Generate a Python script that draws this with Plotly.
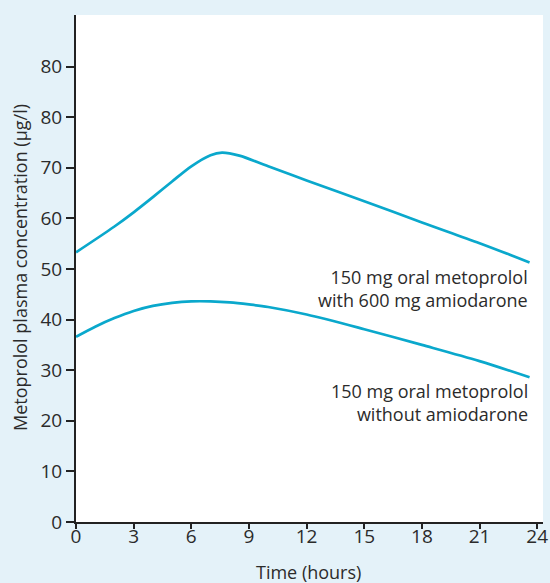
import plotly.graph_objects as go

# Data
time_with = [0, 2, 3, 4, 5, 6, 7, 7.6, 8.5, 10, 12, 15, 18, 21, 23.6]
conc_with = [53.3, 58.4, 61.2, 64.2, 67.3, 70.3, 72.5, 73.0, 72.4, 70.3, 67.5, 63.4, 59.2, 55.1, 51.3]

time_without = [0, 1, 2, 3, 4, 5, 6, 7, 8, 9, 10, 12, 15, 18, 21, 23.6]
conc_without = [36.6, 38.6, 40.3, 41.7, 42.7, 43.3, 43.6, 43.6, 43.4, 43.0, 42.5, 41.0, 38.1, 35.0, 31.8, 28.6]

x_ticks = [0, 3, 6, 9, 12, 15, 18, 21, 24]
y_tickvals = [0, 10, 20, 30, 40, 50, 60, 70, 80, 90]
y_ticktext = ["0", "10", "20", "30", "40", "50", "60", "70", "80", "80"]

label_with = "150 mg oral metoprolol<br>with 600 mg amiodarone"
label_without = "150 mg oral metoprolol<br>without amiodarone"
x_title = "Time (hours)"
y_title = "Metoprolol plasma concentration (µg/l)"

line_color = "#0aa8cc"
font_family = "Open Sans, Noto Sans, sans-serif"
text_color = "#2b2b2b"

fig = go.Figure()
for t, c in ((time_with, conc_with), (time_without, conc_without)):
    fig.add_trace(go.Scatter(x=t, y=c, mode="lines",
                             line=dict(color=line_color, width=2.7, shape="spline", smoothing=0.9),
                             hoverinfo="skip", showlegend=False))

fig.add_annotation(x=time_with[-1], y=51.2, xref="x", yref="y", text=label_with,
                   showarrow=False, xanchor="right", yanchor="top", align="right",
                   font=dict(size=18, color=text_color, family=font_family))
fig.add_annotation(x=time_without[-1], y=28.6, xref="x", yref="y", text=label_without,
                   showarrow=False, xanchor="right", yanchor="top", align="right",
                   font=dict(size=18, color=text_color, family=font_family))

# axis titles
fig.add_annotation(x=308, y=572, xref="paper", yref="paper", text=x_title, showarrow=False,
                   font=dict(size=18, color=text_color, family=font_family))
fig.add_annotation(x=20, y=268, xref="paper", yref="paper", text=y_title, showarrow=False,
                   textangle=-90,
                   font=dict(size=18, color=text_color, family=font_family))

L, R, T, B = 76, 7, 15, 61
W, H = 550, 583
pw, ph = W - L - R, H - T - B
# convert pixel positions of title annotations to paper coords
for ann in fig.layout.annotations[2:]:
    ann.x = (ann.x - L) / pw
    ann.y = 1 - (ann.y - T) / ph
    ann.xanchor = "center"
    ann.yanchor = "middle"

fig.update_layout(
    width=W, height=H,
    margin=dict(l=L, r=R, t=T, b=B),
    paper_bgcolor="#e4f2f9",
    plot_bgcolor="#ffffff",
    font=dict(family=font_family, color=text_color, size=19),
)
fig.update_xaxes(
    range=[0, 24.3], tickvals=x_ticks, ticks="outside", ticklen=5, tickwidth=2,
    tickcolor="#222222", showline=True, linecolor="#222222", linewidth=2,
    showgrid=False, zeroline=False, tickfont=dict(size=19), automargin=False,
    ticklabelstandoff=-9,
)
fig.update_yaxes(
    range=[0, 100.2], tickvals=y_tickvals, ticktext=y_ticktext, ticks="outside",
    ticklen=8, tickwidth=2, tickcolor="#222222", showline=True, linecolor="#222222",
    linewidth=2, showgrid=False, zeroline=False, tickfont=dict(size=19), automargin=False,
    ticklabelstandoff=0,
)

fig.write_html("out.html", config={"displayModeBar": False},
               post_script="document.body.style.margin='0';document.body.style.overflow='hidden';")
